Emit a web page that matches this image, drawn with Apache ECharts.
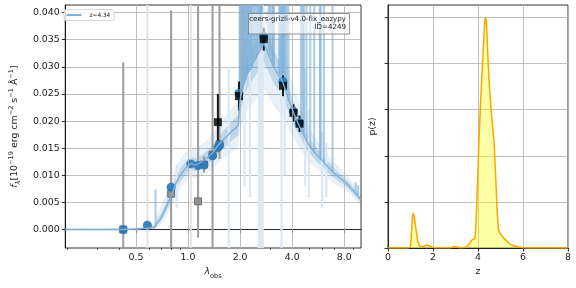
<!DOCTYPE html>
<html><head><meta charset="utf-8">
<script src="https://cdn.jsdelivr.net/npm/echarts@6/dist/echarts.min.js"></script>
<style>html,body{margin:0;padding:0;background:#fff}#c{width:576px;height:288px}</style>
</head><body><div id="c"></div>
<script>
// ---------------- data ----------------
const specLam  = [0.195,0.30,0.40,0.50,0.60,0.645,0.655,0.70,0.75,0.80,0.85,0.90,0.95,1.00,1.05,1.10,1.15,1.20,1.30,1.40,1.50,1.60,1.70,1.80,1.90,1.95,2.00,2.10,2.20,2.40,2.60,2.75,2.90,3.10,3.30,3.50,3.70,3.90,4.10,4.40,4.60,4.90,5.20,5.60,6.00,6.50,7.00,7.50,8.00,8.50,9.00,9.50,10.0];
const specFlux = [0,0,0,0.0001,0.0003,0.0005,0.0010,0.0022,0.0042,0.0063,0.0085,0.0100,0.0110,0.0118,0.0122,0.0119,0.0122,0.0125,0.0133,0.0143,0.0156,0.0166,0.0174,0.0182,0.0188,0.0193,0.0240,0.0268,0.0288,0.0310,0.0330,0.0343,0.0325,0.0302,0.0287,0.0275,0.0252,0.0232,0.0213,0.0191,0.0179,0.0160,0.0149,0.0136,0.0127,0.0114,0.0104,0.0096,0.0089,0.0081,0.0072,0.0063,0.0055];
const bandLo   = [0,0,0,0,0.0001,0.0002,0.0006,0.0016,0.0034,0.0053,0.0073,0.0088,0.0098,0.0106,0.0110,0.0107,0.0110,0.0113,0.0120,0.0129,0.0141,0.0150,0.0157,0.0164,0.0170,0.0174,0.0216,0.0241,0.0259,0.0279,0.0297,0.0309,0.0293,0.0272,0.0258,0.0248,0.0227,0.0209,0.0192,0.0173,0.0162,0.0145,0.0136,0.0124,0.0116,0.0104,0.0095,0.0088,0.0082,0.0075,0.0066,0.0058,0.0050];
const bandHi   = [0.0001,0.0001,0.0001,0.0002,0.0005,0.0008,0.0015,0.0030,0.0052,0.0074,0.0097,0.0112,0.0122,0.0130,0.0134,0.0131,0.0134,0.0137,0.0146,0.0157,0.0171,0.0182,0.0191,0.0200,0.0207,0.0212,0.0264,0.0295,0.0317,0.0341,0.0363,0.0377,0.0358,0.0332,0.0316,0.0303,0.0277,0.0255,0.0234,0.0209,0.0196,0.0175,0.0162,0.0148,0.0138,0.0124,0.0113,0.0104,0.0096,0.0088,0.0078,0.0068,0.0060];
const outerLo  = [-0.0002,-0.0002,-0.0002,-0.0002,-0.0001,0,0.0003,0.0010,0.0025,0.0042,0.0060,0.0075,0.0085,0.0093,0.0097,0.0094,0.0096,0.0099,0.0105,0.0113,0.0124,0.0132,0.0138,0.0144,0.0148,0.0152,0.0185,0.0205,0.0220,0.0235,0.0250,0.0260,0.0247,0.0230,0.0218,0.0210,0.0194,0.0180,0.0167,0.0151,0.0142,0.0128,0.0120,0.0110,0.0103,0.0093,0.0085,0.0079,0.0074,0.0067,0.0059,0.0052,0.0045];
const outerHi  = [0.0003,0.0003,0.0003,0.0004,0.0008,0.0012,0.0025,0.0045,0.0068,0.0090,0.0115,0.0130,0.0140,0.0148,0.0152,0.0150,0.0154,0.0157,0.0166,0.0178,0.0193,0.0205,0.0215,0.0225,0.0232,0.0240,0.0300,0.0340,0.0365,0.0390,0.0410,0.0420,0.0400,0.0375,0.0355,0.0340,0.0310,0.0285,0.0260,0.0232,0.0217,0.0193,0.0178,0.0162,0.0151,0.0136,0.0124,0.0114,0.0105,0.0096,0.0086,0.0075,0.0066];

// emission-line spikes of the model spectrum
const emLam  = [0.649,1.99,2.005,2.02,2.04,2.066,2.09,2.11,2.14,2.17,2.19,2.22,2.25,2.29,2.318,2.35,2.40,2.45,2.50,2.55,2.596,2.62,2.648,2.674,2.92,2.98,3.05,3.10,3.138,3.364,3.42,3.47,3.505,3.55,3.59,3.65,3.72,3.81,4.50,4.60,4.68,4.843,5.09,5.366,5.78,5.84,6.10,6.845,9.30,9.60];
const emBase = [0.0005,0.0220,0.0235,0.0250,0.0255,0.0260,0.0265,0.0270,0.0275,0.0280,0.0285,0.0288,0.0290,0.0293,0.0295,0.0300,0.0310,0.0314,0.0320,0.0325,0.0330,0.0332,0.0335,0.0340,0.0327,0.0320,0.0310,0.0305,0.0300,0.0287,0.0284,0.0280,0.0276,0.0272,0.0268,0.0262,0.0255,0.0237,0.0186,0.0180,0.0172,0.0162,0.0150,0.0141,0.0131,0.0129,0.0124,0.0107,0.0068,0.0064];
const emTop  = [0.0074,0.05,0.05,0.05,0.05,0.05,0.05,0.05,0.05,0.05,0.05,0.05,0.05,0.05,0.05,0.05,0.05,0.05,0.05,0.05,0.05,0.05,0.05,0.05,0.05,0.05,0.05,0.05,0.05,0.05,0.05,0.05,0.05,0.05,0.05,0.05,0.05,0.05,0.05,0.05,0.05,0.05,0.05,0.05,0.05,0.05,0.05,0.05,0.0087,0.0082];
// faint wide range streaks
const faintLam = [0.86,1.72,2.12,2.28,2.57,2.63,2.70,3.47,3.62,4.75,5.00,5.95,6.30];
const faintLo  = [0.004,-0.005,0.008,0.006,-0.005,-0.005,-0.005,-0.005,0.010,0.008,0.006,0.004,0.006];
const faintHi  = [0.012,0.030,0.045,0.045,0.045,0.045,0.045,0.045,0.045,0.030,0.022,0.018,0.016];

// photometry
const photLam  = [0.422,0.582,0.798,1.037,1.143,1.237,1.386,1.488,1.52,1.97,2.74,3.54,4.07,4.41];
const modFlux  = [0.0000,0.0008,0.0078,0.0121,0.0118,0.0119,0.0136,0.0151,0.0156,0.0251,0.0356,0.0273,0.0218,0.0197];
const obsFlux  = [0.0000,0.0000,0.0066,0.0000,0.0052,0.0120,0.0138,0.0198,0.0157,0.0246,0.0351,0.0265,0.0215,0.0195];
const obsErrLo = [0.0308,0.0600,0.0338,0.0600,0.0067,0.0015,0.0450,0.0052,0.0027,0.0027,0.0021,0.0019,0.0016,0.0015];
const obsErrHi = [0.0308,0.0600,0.0338,0.0600,0.0360,0.0015,0.0450,0.0052,0.0300,0.0027,0.0021,0.0019,0.0016,0.0015];
const obsKind  = ['low','nd','low','nd','low','low','low','good','low','good','good','good','good','good'];

// p(z)
const pzZ = [0,0.9,1.0,1.04,1.08,1.12,1.16,1.2,1.25,1.32,1.4,1.5,1.6,1.7,1.76,1.85,1.95,2.1,2.5,2.8,2.9,2.97,3.05,3.2,3.4,3.55,3.65,3.72,3.8,3.86,3.92,3.96,4.0,4.04,4.1,4.2,4.28,4.32,4.34,4.37,4.41,4.47,4.58,4.66,4.72,4.79,4.85,4.9,4.95,5.05,5.15,5.28,5.4,5.58,5.8,6.0,6.3,7.0,8.0];
const pzP = [0,0,0.02,0.3,0.65,0.76,0.68,0.55,0.38,0.15,0.05,0.03,0.04,0.065,0.07,0.05,0.02,0.005,0.003,0.008,0.025,0.06,0.02,0.004,0.01,0.04,0.12,0.17,0.13,0.2,0.6,1.2,1.7,2.3,3.0,4.0,4.75,5.0,5.04,4.95,4.5,3.8,3.0,2.6,2.26,1.5,0.8,0.45,0.34,0.27,0.21,0.15,0.09,0.05,0.02,0.008,0.002,0,0];

// ticks / labels
const xMajor = [0.5,1,2,4,8];
const xMinor = [0.2,0.3,0.4,0.6,0.7,0.8,0.9,3,5,6,7,9];
const yTicks = [0,0.005,0.010,0.015,0.020,0.025,0.030,0.035,0.040];
const pzYTicks = [0,1,2,3,4,5];
const zLabel = 'z=4.34';
const boxText = 'ceers-grizli-v4.0-fix_eazypy\nID=4249';

// ---------------- chart ----------------
const FONT = 'DejaVu Sans';
const TXT = '#1a1a1a';
const GRIDC = '#b0b0b0';
const Y0 = [-0.0034, 0.0414];
const XR = [0.195, 10];
const SPEC = '#7fb0d8';
const zip = (a,b) => a.map((v,i)=>[v,b[i]]);
const idx = k => obsKind.map((v,i)=>v===k?i:-1).filter(i=>i>=0);
const clampY = v => Math.min(Math.max(v, Y0[0]), Y0[1]);

function vbar(color, width){
  return function(params, api){
    const x = api.value(0);
    const lo = Math.max(api.value(1), Y0[0]);
    const hi = Math.min(api.value(2), Y0[1]);
    if (!(hi > lo)) return null;
    const p1 = api.coord([x, lo]), p2 = api.coord([x, hi]);
    return {type:'line', shape:{x1:p1[0],y1:p1[1],x2:p2[0],y2:p2[1]}, style:{stroke:color, lineWidth:width}};
  };
}
function bandPoly(lo, hi, color){
  return function(params, api){
    const pts = [];
    for (let i=0;i<specLam.length;i++) pts.push(api.coord([specLam[i], clampY(hi[i])]));
    for (let i=specLam.length-1;i>=0;i--) pts.push(api.coord([specLam[i], clampY(lo[i])]));
    return {type:'polygon', shape:{points:pts}, style:{fill:color}};
  };
}
function errData(k){ return idx(k).map(i=>[photLam[i], obsFlux[i]-obsErrLo[i], obsFlux[i]+obsErrHi[i]]); }

const chart = echarts.init(document.getElementById('c'), null, {renderer:'canvas', width:576, height:288});

const axisLineS = {show:true, lineStyle:{color:'#000', width:0.8}};

const option = {
  animation:false,
  backgroundColor:'#fff',
  textStyle:{fontFamily:FONT},
  grid:[
    {left:61, top:5, width:300, height:243, show:true, borderColor:'#000', borderWidth:0.8, backgroundColor:'transparent'},
    {left:388, top:5, width:180, height:243, show:true, borderColor:'#000', borderWidth:0.8, backgroundColor:'transparent'}
  ],
  xAxis:[
    {gridIndex:0, type:'log', logBase:2, min:XR[0], max:XR[1],
     axisLine:axisLineS,
     axisTick:{show:true, length:3.5, customValues:xMajor, lineStyle:{color:'#000', width:0.8}},
     axisLabel:{fontFamily:FONT, fontSize:9.4, color:TXT, margin:5, customValues:xMajor, formatter:v=>Number(v).toFixed(1)},
     splitLine:{show:false},
     name:'{a|λ}{b|obs}', nameLocation:'middle', nameGap:19,
     nameTextStyle:{rich:{a:{fontFamily:FONT, fontSize:9.4, fontStyle:'italic', color:TXT, lineHeight:13, verticalAlign:'top'}, b:{fontFamily:FONT, fontSize:6.6, color:TXT, lineHeight:13, verticalAlign:'bottom'}}}
    },
    {gridIndex:0, type:'log', logBase:2, min:XR[0], max:XR[1], position:'bottom',
     axisLine:{show:false},
     axisTick:{show:true, length:2, customValues:xMinor, lineStyle:{color:'#000', width:0.6}},
     axisLabel:{show:false}, splitLine:{show:false}
    },
    {gridIndex:1, type:'value', min:0, max:8, interval:2,
     axisLine:axisLineS, axisTick:{show:true, length:3.5, lineStyle:{color:'#000', width:0.8}},
     axisLabel:{fontFamily:FONT, fontSize:9.4, color:TXT, margin:5},
     splitLine:{show:true, lineStyle:{color:GRIDC, width:0.8}},
     name:'z', nameLocation:'middle', nameGap:19, nameTextStyle:{fontFamily:FONT, fontSize:9.4, color:TXT}
    }
  ],
  yAxis:[
    {gridIndex:0, type:'value', min:Y0[0], max:Y0[1], splitNumber:9,
     axisLine:axisLineS,
     axisTick:{show:true, length:3.5, customValues:yTicks, lineStyle:{color:'#000', width:0.8}},
     axisLabel:{fontFamily:FONT, fontSize:9.4, color:TXT, margin:5.5, customValues:yTicks, formatter:v=>Number(v).toFixed(3)},
     splitLine:{show:true, lineStyle:{color:GRIDC, width:0.8}},
     name:'{f|f}{l|λ}{a|[10}{s|−19}{a| erg cm}{s|−2}{a| s}{s|−1}{a| Å}{s|−1}{a|]}',
     nameLocation:'middle', nameGap:42,
     nameTextStyle:{rich:{
       f:{fontFamily:FONT, fontSize:9.4, fontStyle:'italic', color:TXT, lineHeight:14, verticalAlign:'middle'},
       l:{fontFamily:FONT, fontSize:6.6, fontStyle:'italic', color:TXT, lineHeight:14, verticalAlign:'bottom'},
       a:{fontFamily:FONT, fontSize:9.4, color:TXT, lineHeight:14, verticalAlign:'middle'},
       s:{fontFamily:FONT, fontSize:6.6, color:TXT, lineHeight:14, verticalAlign:'top'}
     }}
    },
    {gridIndex:1, type:'value', min:0, max:5.27,
     axisLine:axisLineS,
     axisTick:{show:true, length:3.5, customValues:pzYTicks, lineStyle:{color:'#000', width:0.8}},
     axisLabel:{show:false},
     splitLine:{show:true, lineStyle:{color:GRIDC, width:0.8}},
     name:'p(z)', nameLocation:'middle', nameGap:11, nameTextStyle:{fontFamily:FONT, fontSize:9.4, color:TXT}
    }
  ],
  legend:{
    data:[{name:zLabel, icon:'rect'}], left:64, top:9.5, itemWidth:15, itemHeight:2, itemGap:4,
    textStyle:{fontFamily:FONT, fontSize:5.8, color:TXT, padding:[0,0,0,3]},
    borderColor:'#d0d0d0', borderWidth:0.8, borderRadius:2, padding:[2.5,4,2.5,2.5],
    backgroundColor:'rgba(255,255,255,0.8)', selectedMode:false
  },
  graphic:[
    {type:'rect', shape:{x:248.5, y:13.5, width:101, height:20.5}, style:{fill:'rgba(255,255,255,0.6)', stroke:'#7a7a7a', lineWidth:0.8}, z:100},
    {type:'text', x:346, y:15.8, style:{text:boxText, align:'right', verticalAlign:'top', font:'7.1px "DejaVu Sans"', fill:TXT, lineHeight:7.4}, z:101}
  ],
  series:[
    {type:'line', xAxisIndex:0, yAxisIndex:0, data:[], silent:true, z:1,
     markLine:{silent:true, symbol:'none', label:{show:false}, lineStyle:{color:GRIDC, width:0.8, type:'solid'}, animation:false,
       data:xMajor.map(v=>({xAxis:v}))}},
    {type:'custom', xAxisIndex:0, yAxisIndex:0, silent:true, renderItem:bandPoly(outerLo, outerHi, 'rgba(31,119,180,0.10)'), data:[[specLam[0], specFlux[0]]]},
    {type:'custom', xAxisIndex:0, yAxisIndex:0, silent:true, renderItem:bandPoly(bandLo, bandHi, 'rgba(31,119,180,0.20)'), data:[[specLam[0], specFlux[0]]]},
    {type:'custom', xAxisIndex:0, yAxisIndex:0, silent:true, encode:{x:0, y:[1,2]},
     renderItem:vbar('#dbe8f4', 2.2), data:faintLam.map((v,i)=>[v, faintLo[i], faintHi[i]])},
    {type:'custom', xAxisIndex:0, yAxisIndex:0, silent:true, encode:{x:0, y:[1,2]},
     renderItem:vbar('rgba(120,172,214,0.6)', 2.1), data:emLam.map((v,i)=>[v, emBase[i], emTop[i]])},
    {name:zLabel, type:'line', xAxisIndex:0, yAxisIndex:0, symbol:'none', silent:true,
     color:SPEC, lineStyle:{color:SPEC, width:1.4}, data:zip(specLam, specFlux)},
    {type:'custom', xAxisIndex:0, yAxisIndex:0, silent:true, encode:{x:0, y:[1,2]},
     renderItem:vbar('#e3e3e3', 2), data:errData('nd')},
    {type:'custom', xAxisIndex:0, yAxisIndex:0, silent:true, encode:{x:0, y:[1,2]},
     renderItem:vbar('#9c9c9c', 2), data:errData('low')},
    {type:'scatter', xAxisIndex:0, yAxisIndex:0, silent:true, symbol:'rect', symbolSize:7,
     itemStyle:{color:'#8a8a8a', borderColor:'#555', borderWidth:0.8, opacity:0.9},
     data:idx('low').map(i=>[photLam[i], obsFlux[i]])},
    {type:'scatter', xAxisIndex:0, yAxisIndex:0, silent:true,
     symbol:'path://M0,1L1,0L5,4L9,0L10,1L6,5L10,9L9,10L5,6L1,10L0,9L4,5Z', symbolSize:6,
     itemStyle:{color:'#dcdcdc'}, data:idx('nd').map(i=>[photLam[i], obsFlux[i]])},
    {type:'scatter', xAxisIndex:0, yAxisIndex:0, silent:true, symbol:'circle', symbolSize:9,
     itemStyle:{color:'#2a7ab8', opacity:0.92}, data:zip(photLam, modFlux)},
    {type:'custom', xAxisIndex:0, yAxisIndex:0, silent:true, encode:{x:0, y:[1,2]},
     renderItem:vbar('#1a1a1a', 2), data:errData('good')},
    {type:'scatter', xAxisIndex:0, yAxisIndex:0, silent:true, symbol:'rect', symbolSize:8,
     itemStyle:{color:'#000'}, data:idx('good').map(i=>[photLam[i], obsFlux[i]])},
    {type:'line', xAxisIndex:2, yAxisIndex:1, symbol:'none', silent:true,
     lineStyle:{color:'#ffa500', width:1.5}, areaStyle:{color:'rgba(255,255,0,0.5)'}, data:zip(pzZ, pzP)}
  ]
};
chart.setOption(option);
</script>
</body></html>
